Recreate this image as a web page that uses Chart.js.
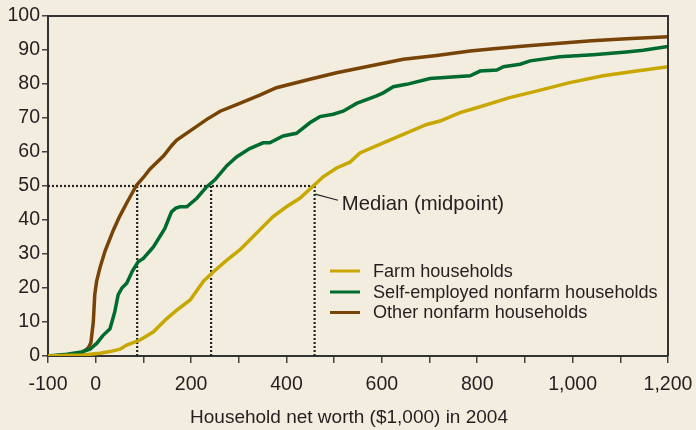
<!DOCTYPE html>
<html>
<head>
<meta charset="utf-8">
<script src="https://cdn.jsdelivr.net/npm/chart.js@4.4.1/dist/chart.umd.min.js"></script>
<style>
  html, body { margin: 0; padding: 0; background: #f3eddf; }
  #wrap { width: 696px; height: 430px; position: relative; }
</style>
</head>
<body>
<div id="wrap"><canvas id="c" width="696" height="430"></canvas></div>
<script>
// ---- Data (household net worth in $1,000 vs cumulative percent of households) ----
const seriesLabels = ["Farm households", "Self-employed nonfarm households", "Other nonfarm households"];
const seriesColors = ["#c8a700", "#006b2e", "#774306"];

const farmX = [-100,-50,-26,9,30,51,65,93,121,149,170,198,226,247,275,302,323,344,372,400,428,456,477,505,533,554,603,645,694,722,764,806,868,924,994,1064,1134,1200];
const farmY = [0,0.2,0.3,0.8,1.3,2,3.2,4.7,7.1,11,13.5,16.5,22,24.8,28.2,31.2,34.1,37.1,41,43.9,46.4,50,52.7,55.3,57,59.7,62.7,65.2,68.1,69.1,71.6,73.3,76,77.9,80.4,82.4,83.8,85.1];

const selfX = [-100,-60,-30,-12,2,15,30,40,47,55,65,77,89,100,121,145,152,159,168,177,191,212,233,250,275,296,323,351,365,393,421,449,470,498,519,547,589,603,624,652,701,785,806,841,855,890,911,973,1043,1113,1148,1200];
const selfY = [0,0.5,1.2,2,3.7,6,8,13,18,20,21.4,25,27.7,28.7,32.1,37.5,40,42.4,43.5,43.9,43.9,46.4,49.8,51.8,56,58.6,61,62.7,62.7,64.7,65.5,68.6,70.4,71.1,72,74.3,76.5,77.4,79.2,79.9,81.6,82.4,83.8,84.1,85.1,85.8,86.8,88,88.6,89.4,89.9,91];

const otherX = [-100,-60,-30,-15,-10,-5,-2,2,9,20,37,50,65,86,100,114,142,160,170,198,233,261,302,344,379,449,505,575,645,715,785,834,900,973,1040,1113,1200];
const otherY = [0,0.2,0.8,2.5,4,10,18,22,26,31,37,41,45,50.3,52.5,55,58.8,62,63.5,66.2,69.6,72,74.3,76.7,78.9,81.4,83.3,85.3,87.3,88.4,89.7,90.4,91.2,92,92.7,93.3,93.9];

const medianValues = [459, 242, 87]; // farm, self-employed, other
const medianLevel = 50;
const medianLabel = "Median (midpoint)";

const xTitle = "Household net worth ($1,000) in 2004";
const xMin = -100, xMax = 1200, xStep = 100;
const yMin = 0, yMax = 100, yStep = 10;
const xLabeled = [-100, 0, 200, 400, 600, 800, 1000, 1200];

// ---- Build datasets ----
const toPts = (xs, ys) => xs.map((x, i) => ({ x: x, y: ys[i] }));
const curves = [toPts(farmX, farmY), toPts(selfX, selfY), toPts(otherX, otherY)];

const FONT = "'Liberation Sans', Arial, Helvetica, sans-serif";
const TEXT = "#231f20";
const DOT = "#222";

const datasets = [];
curves.forEach((pts, i) => {
  datasets.push({
    label: seriesLabels[i],
    data: pts,
    borderColor: seriesColors[i],
    borderWidth: 3.5,
    pointRadius: 0,
    tension: 0,
    fill: false,
    order: 1
  });
});
// median guide lines (dotted)
const maxMedian = Math.max.apply(null, medianValues);
datasets.push({
  label: "_median_h",
  data: [{ x: xMin, y: medianLevel }, { x: maxMedian, y: medianLevel }],
  borderColor: DOT, borderWidth: 2.2, borderDash: [2, 2], pointRadius: 0, order: 10
});
medianValues.forEach((m, i) => {
  datasets.push({
    label: "_median_v" + i,
    data: [{ x: m, y: medianLevel }, { x: m, y: yMin }],
    borderColor: DOT, borderWidth: 2.2, borderDash: [2, 2], pointRadius: 0, order: 10
  });
});

// ---- Plugins ----
const framePlugin = {
  id: "frame",
  afterDraw(chart) {
    const { ctx, chartArea: a } = chart;
    ctx.save();
    ctx.strokeStyle = "#333";
    ctx.lineWidth = 2;
    ctx.beginPath();
    ctx.moveTo(a.left, a.top);
    ctx.lineTo(a.right, a.top);
    ctx.lineTo(a.right, a.bottom);
    ctx.stroke();
    // x-axis title, centred on the figure
    ctx.fillStyle = TEXT;
    ctx.font = "19px " + FONT;
    ctx.textAlign = "center";
    ctx.textBaseline = "middle";
    ctx.fillText(xTitle, chart.width / 2 + 1, 418);
    ctx.restore();
  }
};

const annotPlugin = {
  id: "annot",
  afterDatasetsDraw(chart) {
    const { ctx, scales } = chart;
    const xs = scales.x, ys = scales.y;
    ctx.save();
    // leader line for median label
    ctx.strokeStyle = "#222";
    ctx.lineWidth = 1.2;
    ctx.beginPath();
    ctx.moveTo(xs.getPixelForValue(medianValues[0] + 1), ys.getPixelForValue(47.6));
    ctx.lineTo(xs.getPixelForValue(508), ys.getPixelForValue(45.8));
    ctx.stroke();
    ctx.fillStyle = TEXT;
    ctx.font = "20.3px " + FONT;
    ctx.textBaseline = "middle";
    ctx.textAlign = "left";
    ctx.fillText(medianLabel, xs.getPixelForValue(516), ys.getPixelForValue(44.5));

    // legend
    const lx0 = 330, lx1 = 360, tx = 373;
    const rows = [271, 292, 312.5];
    seriesLabels.forEach((lab, i) => {
      ctx.strokeStyle = seriesColors[i];
      ctx.lineWidth = 3;
      ctx.beginPath();
      ctx.moveTo(lx0, rows[i]);
      ctx.lineTo(lx1, rows[i]);
      ctx.stroke();
      ctx.fillStyle = TEXT;
      ctx.font = "18.1px " + FONT;
      ctx.fillText(lab, tx, rows[i] + 0.5);
    });
    ctx.restore();
  }
};

new Chart(document.getElementById("c"), {
  type: "line",
  data: { datasets: datasets },
  plugins: [framePlugin, annotPlugin],
  options: {
    responsive: false,
    animation: false,
    layout: { padding: { top: 16, right: 28, left: 0, bottom: 0 } },
    plugins: {
      legend: { display: false },
      tooltip: { enabled: false }
    },
    scales: {
      x: {
        type: "linear",
        min: xMin, max: xMax,
        afterFit(s) { s.height = 74; s.paddingRight = 0; s.paddingLeft = 0; },
        ticks: {
          stepSize: xStep,
          autoSkip: false,
          maxRotation: 0,
          color: TEXT,
          font: { family: FONT, size: 19.5 },
          padding: 10,
          callback(v) { return xLabeled.includes(v) ? v.toLocaleString("en-US") : ""; }
        },
        grid: { drawOnChartArea: false, drawTicks: true, tickLength: 7, color: "#444", lineWidth: 1.5 },
        border: { display: true, color: "#333", width: 2 },
        title: { display: false }
      },
      y: {
        min: yMin, max: yMax,
        afterFit(s) { s.width = 48; s.paddingTop = 0; s.paddingBottom = 0; },
        ticks: {
          stepSize: yStep,
          color: TEXT,
          font: { family: FONT, size: 19.5 },
          padding: 2
        },
        grid: { drawOnChartArea: false, drawTicks: true, tickLength: 6, color: "#444", lineWidth: 1.5 },
        border: { display: true, color: "#333", width: 2 }
      }
    }
  }
});
</script>
</body>
</html>
